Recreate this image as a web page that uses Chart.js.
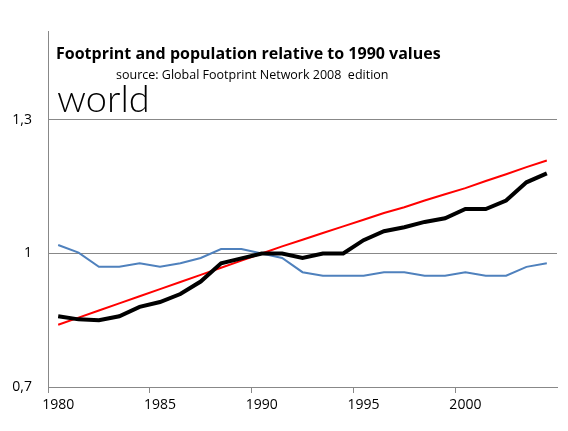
<!DOCTYPE html>
<html lang="en">
<head>
<meta charset="utf-8">
<title>Footprint and population</title>
<script src="https://cdn.jsdelivr.net/npm/chart.js"></script>
<style>
  html, body { margin: 0; padding: 0; background: #fff; }
  #wrap { width: 568px; height: 431px; }
</style>
</head>
<body>
<div id="wrap"><canvas id="myChart" width="568" height="431"></canvas></div>
<script>
var years = [];
for (var y = 1980; y <= 2004; y++) years.push(String(y));

var population = [0.840, 0.856, 0.872, 0.888, 0.904, 0.920, 0.936, 0.952, 0.968, 0.984,
                  1.000, 1.016, 1.031, 1.046, 1.061, 1.076, 1.091, 1.104, 1.119, 1.133,
                  1.147, 1.163, 1.178, 1.194, 1.209];
var footprint = [0.859, 0.852, 0.850, 0.859, 0.880, 0.891, 0.909, 0.937, 0.978, 0.989,
                 1.000, 1.000, 0.990, 1.000, 1.000, 1.030, 1.050, 1.059, 1.071, 1.079,
                 1.100, 1.100, 1.119, 1.160, 1.180];
var perCapita = [1.019, 1.002, 0.970, 0.970, 0.978, 0.970, 0.978, 0.990, 1.010, 1.010,
                 1.000, 0.990, 0.958, 0.950, 0.950, 0.950, 0.958, 0.958, 0.950, 0.950,
                 0.958, 0.950, 0.950, 0.970, 0.978];
var yTicks = [0.7, 1.0, 1.3];

var titles = {
    id: 'titles',
    afterDraw: function (chart) {
        var c = chart.ctx;
        c.save();
        c.fillStyle = '#000';
        c.textBaseline = 'middle';
        c.font = 'bold 16px "Open Sans"';
        c.fillText('Footprint and population relative to 1990 values', 56, 54);
        c.font = '12.5px "Open Sans"';
        c.fillText('source: Global Footprint Network 2008  edition', 116, 75);
        c.font = '300 38px Lato';
        c.fillText('world', 57, 100);
        c.restore();
    }
};

var ctx = document.getElementById('myChart').getContext('2d');
new Chart(ctx, {
    type: 'line',
    data: {
        labels: years,
        datasets: [
            { data: footprint, borderColor: '#000', borderWidth: 4 },
            { data: population, borderColor: '#ff0000', borderWidth: 2 },
            { data: perCapita, borderColor: '#4f81bd', borderWidth: 2 }
        ]
    },
    plugins: [titles],
    options: {
        responsive: false,
        animation: false,
        elements: { point: { radius: 0 }, line: { tension: 0 } },
        layout: { padding: { top: 31, right: 11, left: 0, bottom: 0 } },
        plugins: { legend: { display: false }, tooltip: { enabled: false } },
        scales: {
            x: {
                offset: true,
                afterFit: function (s) { s.height = 44; },
                border: { color: '#888' },
                grid: {
                    offset: true,
                    drawOnChartArea: false,
                    tickLength: 6,
                    color: function (c) { return c.index % 5 === 0 ? '#888' : 'rgba(0,0,0,0)'; }
                },
                ticks: {
                    autoSkip: false,
                    maxRotation: 0,
                    color: '#000',
                    font: { size: 14, family: 'Open Sans' },
                    padding: 4,
                    callback: function (v, i) { return i % 5 === 0 ? years[i] : ''; }
                }
            },
            y: {
                min: 0.7,
                max: 1.5,
                afterFit: function (s) { s.width = 48; },
                afterBuildTicks: function (s) {
                    s.ticks = yTicks.map(function (v) { return { value: v }; });
                },
                border: { color: '#888' },
                grid: { color: '#888', drawTicks: false },
                ticks: {
                    color: '#000',
                    font: { size: 14, family: 'Open Sans' },
                    padding: 16,
                    callback: function (v) { return String(Math.round(v * 10) / 10).replace('.', ','); }
                }
            }
        }
    }
});
</script>
</body>
</html>
